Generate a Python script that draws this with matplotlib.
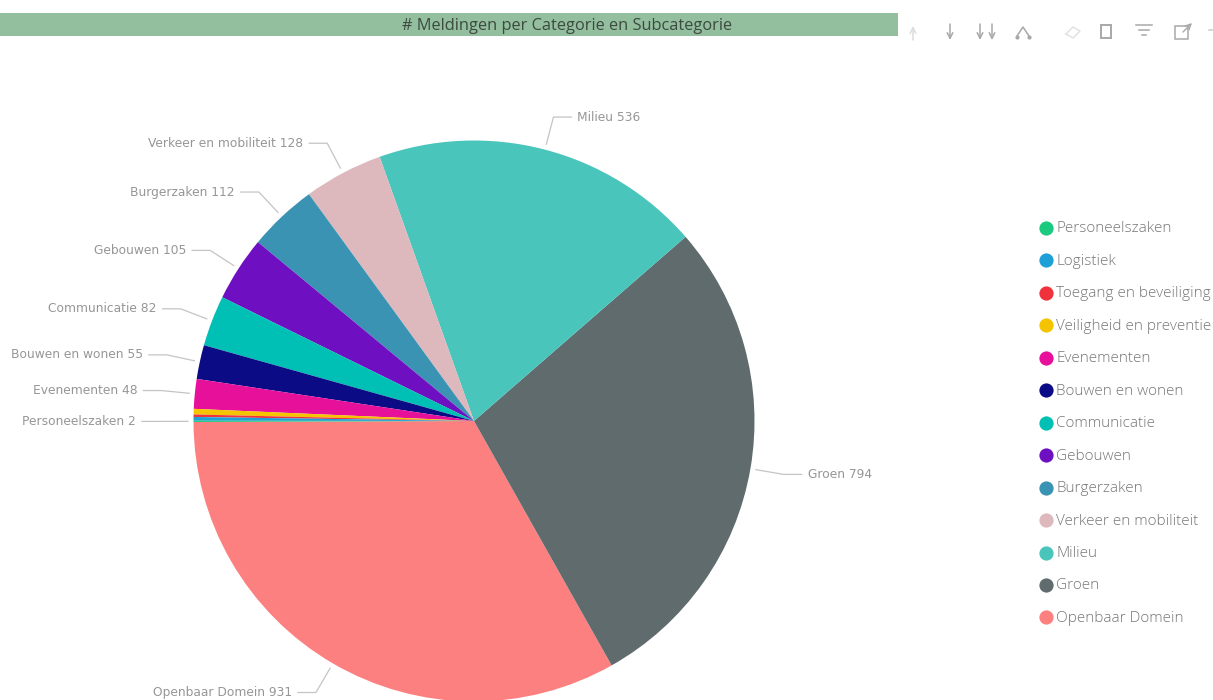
"""
Meldingen per categorie - taartdiagram met legenda en werkbalk
"""

import numpy as np
from matplotlib import pyplot as plt
from matplotlib.patches import Rectangle

categories = ['Personeelszaken', 'Logistiek', 'Toegang en beveiliging', 'Veiligheid en preventie',
              'Evenementen', 'Bouwen en wonen', 'Communicatie', 'Gebouwen', 'Burgerzaken',
              'Verkeer en mobiliteit', 'Milieu', 'Groen', 'Openbaar Domein']
counts = [2, 6, 4, 9, 48, 55, 82, 105, 112, 128, 536, 794, 931]
colors = ['#1BC97F', '#1E9FD8', '#F0323C', '#F5C400', '#E6109A', '#0B0C85', '#00BFB5',
          '#6E0FC2', '#3A93B2', '#DDB9BE', '#4AC5BB', '#5F6B6D', '#FD8080']
# kleine categorieen krijgen geen label in de grafiek
unlabelled = ['Logistiek', 'Toegang en beveiliging', 'Veiligheid en preventie']

W, H = 1213, 700
CX, CY, R = 474, 421, 280.5
LABEL_GREY = '#969696'
ICON_GREY = '#a8a8a8'


def py(y):
    return H - y


def draw_pie(ax):
    wedges, _ = ax.pie(counts[::-1], colors=colors[::-1], startangle=180.2, counterclock=True,
                       center=(CX, py(CY)), radius=R, frame=True,
                       wedgeprops={'linewidth': 0})
    for wedge, name, count in zip(wedges, categories[::-1], counts[::-1]):
        if name in unlabelled:
            continue
        angle = np.deg2rad((wedge.theta1 + wedge.theta2) / 2)
        side = 1 if np.cos(angle) > 0 else -1
        x0 = CX + R * 1.02 * np.cos(angle)
        y0 = py(CY) + R * 1.02 * np.sin(angle)
        x1 = CX + R * 1.12 * np.cos(angle)
        y1 = py(CY) + R * 1.12 * np.sin(angle)
        x2 = x1 + side * 18
        ax.plot([x0, x1, x2], [y0, y1, y1], color='#c4c4c4', linewidth=0.9, zorder=1)
        ax.text(x2 + side * 6, y1, f'{name} {count}', color=LABEL_GREY, fontsize=8.8,
                family='DejaVu Sans', ha='left' if side > 0 else 'right', va='center')


def draw_legend(ax):
    for i, (name, color) in enumerate(zip(categories, colors)):
        y = py(228 + i * 32.45)
        ax.scatter([1046], [y], s=105, color=color, linewidths=0, zorder=3)
        ax.text(1056, y - 1, name, color='#777777', fontsize=11, family='Open Sans',
                fontweight='light', ha='left', va='center')


def draw_title(ax):
    ax.add_patch(Rectangle((0, py(36)), 898, 23, facecolor='#94BF9F', edgecolor='none'))
    ax.text(567, py(26), '# Meldingen per Categorie en Subcategorie', color='#3c4a40',
            fontsize=11.8, family='Open Sans', ha='center', va='center')


def draw_toolbar(ax):
    # pijlen
    for x, color in [(913, '#dcdcdc'), (950, ICON_GREY), (980, ICON_GREY), (992, ICON_GREY)]:
        up = x == 913
        ax.annotate('', xy=(x, py(26 if up else 40)), xytext=(x, py(40 if up else 24)),
                    arrowprops={'arrowstyle': '->', 'color': color, 'lw': 1.1, 'shrinkA': 0, 'shrinkB': 0})
    # vertakking
    ax.plot([1017, 1023, 1029], [py(36), py(27), py(36)], color=ICON_GREY, linewidth=1.1)
    ax.scatter([1017, 1029], [py(37), py(37)], s=9, color=ICON_GREY, linewidths=0)
    # speld
    ax.plot([1066, 1073, 1080, 1073, 1066], [py(34), py(27), py(31), py(38), py(34)],
            color='#e2e2e2', linewidth=1.1)
    # kopie
    ax.add_patch(Rectangle((1101, py(38)), 10, 13, fill=False, edgecolor=ICON_GREY, linewidth=1.4))
    # filter
    for half, y in [(8, 25), (5, 30), (2, 35)]:
        ax.plot([1144 - half, 1144 + half], [py(y), py(y)], color=ICON_GREY, linewidth=1.1)
    # vergroten
    ax.add_patch(Rectangle((1175, py(39)), 13, 13, fill=False, edgecolor=ICON_GREY, linewidth=1.1))
    ax.annotate('', xy=(1192, py(23)), xytext=(1183, py(32)),
                arrowprops={'arrowstyle': '->', 'color': ICON_GREY, 'lw': 1.0, 'shrinkA': 0, 'shrinkB': 0})
    ax.plot([1209, 1213], [py(30), py(30)], color='#d0d0d0', linewidth=1.2)


def plot():
    fig = plt.figure(figsize=(W / 100, H / 100), dpi=100)
    ax = fig.add_axes([0, 0, 1, 1])
    draw_pie(ax)
    draw_legend(ax)
    draw_title(ax)
    draw_toolbar(ax)
    ax.set_xlim(0, W)
    ax.set_ylim(0, H)
    ax.set_aspect('equal')
    ax.axis('off')
    fig.savefig('out.png', dpi=100)


if __name__ == '__main__':
    plot()
